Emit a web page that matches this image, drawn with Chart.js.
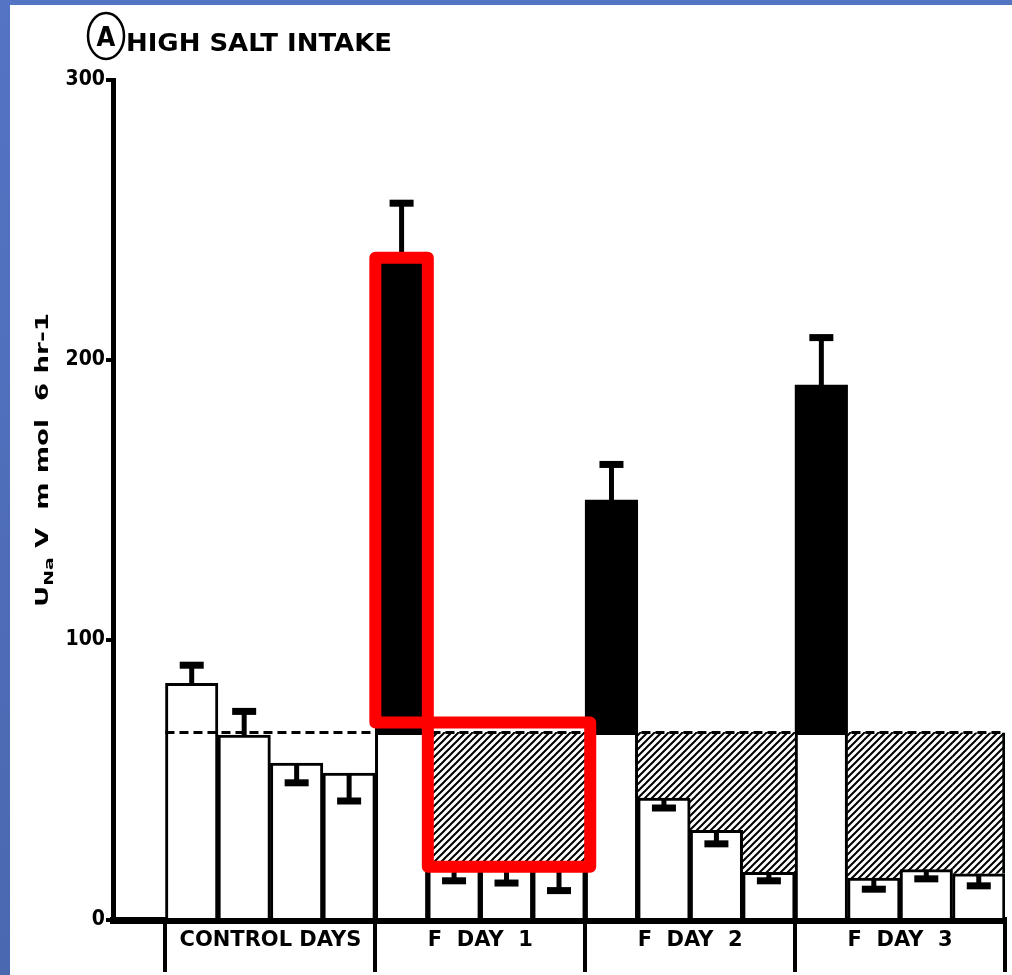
<!DOCTYPE html>
<html>
<head>
<meta charset="utf-8">
<script src="https://cdn.jsdelivr.net/npm/chart.js@4.4.1/dist/chart.umd.min.js"></script>
<style>
html, body { margin: 0; padding: 0; }
body { width: 1012px; height: 975px; position: relative; overflow: hidden;
       background: linear-gradient(180deg, #5474c4 0%, #4a68b0 100%); }
#wrap { position: absolute; left: 10px; top: 5px; width: 1002px; height: 970px; background: #fff; }
</style>
</head>
<body>
<div id="wrap"><canvas id="naChart"></canvas></div>
<script>
// one slot per bar, slot 0 is the empty space next to the y axis
var bar_labels = ['', 'C1', 'C2', 'C3', 'C4', 'F1a', 'F1b', 'F1c', 'F1d',
                  'F2a', 'F2b', 'F2c', 'F2d', 'F3a', 'F3b', 'F3c', 'F3d'];
var white_vals = [null, 84.5, 66, 56, 52.5, 67, 19.5, 19.5, 19, 67, 43.5, 32, 17, 67, 15, 18, 16.5];
var black_top = [null, null, null, null, null, 235.5, null, null, null, 150, null, null, null, 191, null, null, null];
var hatch_top = [null, null, null, null, null, null, 67, 67, 67, null, 67, 67, 67, null, 67, 67, 67];
var err_end = [null, 91, 74.5, 49, 42.5, 256, 14, 13.2, 10.5, 162.7, 40, 27.2, 14, 208, 11, 14.7, 12.2];
var ctrl_level = 67;

var group_labels = ['CONTROL DAYS', 'F  DAY  1', 'F  DAY  2', 'F  DAY  3'];
var group_mid = [3, 7, 11, 15];
var group_edges = [1, 5, 9, 13, 17];
var y_ticks = [0, 100, 200, 300];

// red highlight boxes (bar range, low value, high value)
var hl_from = [5, 6];
var hl_to = [5, 8];
var hl_low = [70.5, 19];
var hl_high = [236.5, 70.5];

var FONT = '"DejaVu Sans", sans-serif';
var FONT_C = '"DejaVu Sans Condensed", "DejaVu Sans", sans-serif';

function make_hatch() {
    var c = document.createElement('canvas');
    c.width = 7; c.height = 7;
    var g = c.getContext('2d');
    g.fillStyle = '#fff';
    g.fillRect(0, 0, 7, 7);
    g.strokeStyle = '#000';
    g.lineWidth = 2;
    g.beginPath();
    g.moveTo(-1, 8); g.lineTo(8, -1);
    g.moveTo(-2, 2); g.lineTo(2, -2);
    g.moveTo(5, 9); g.lineTo(9, 5);
    g.stroke();
    return g.createPattern(c, 'repeat');
}

var black_inc = black_top.map(function (v, i) { return v == null ? null : v - white_vals[i]; });
var hatch_inc = hatch_top.map(function (v, i) { return v == null ? null : v - white_vals[i]; });

// draw text squeezed or stretched to a given width
function fit_text(ctx, txt, x, y, w) {
    var m = ctx.measureText(txt).width;
    ctx.save();
    ctx.translate(x, y);
    ctx.scale(w / m, 1);
    ctx.fillText(txt, 0, 0);
    ctx.restore();
}

var decor = {
    id: 'decor',
    afterDatasetsDraw: function (chart) {
        var ctx = chart.ctx;
        var x = chart.scales.x, y = chart.scales.y;
        var half = (x.getPixelForValue(1) - x.getPixelForValue(0)) / 2;
        ctx.save();
        // control mean dashed line
        var yl = y.getPixelForValue(ctrl_level);
        ctx.strokeStyle = '#000';
        ctx.lineWidth = 3;
        ctx.setLineDash([9, 5]);
        ctx.beginPath();
        ctx.moveTo(x.getPixelForValue(1) - half, yl);
        ctx.lineTo(x.getPixelForValue(16) + half, yl);
        ctx.stroke();
        ctx.setLineDash([]);
        // error bars
        ctx.fillStyle = '#000';
        for (var i = 1; i < bar_labels.length; i++) {
            if (err_end[i] == null) continue;
            var top = black_top[i] != null ? black_top[i] : white_vals[i];
            var xc = x.getPixelForValue(i);
            var y0 = y.getPixelForValue(top), y1 = y.getPixelForValue(err_end[i]);
            ctx.lineWidth = 5;
            ctx.beginPath();
            ctx.moveTo(xc, y0);
            ctx.lineTo(xc, y1);
            ctx.stroke();
            ctx.fillRect(xc - 12, y1 - 3.5, 24, 7);
        }
        // red boxes
        ctx.strokeStyle = '#ff0000';
        ctx.lineWidth = 12;
        ctx.lineJoin = 'round';
        for (var k = 0; k < hl_from.length; k++) {
            var l = x.getPixelForValue(hl_from[k]) - half;
            var r = x.getPixelForValue(hl_to[k]) + half + (k == 1 ? 5 : 0);
            var t = y.getPixelForValue(hl_high[k]);
            var b = y.getPixelForValue(hl_low[k]);
            ctx.strokeRect(l, t, r - l, b - t);
        }
        ctx.restore();
    },
    afterDraw: function (chart) {
        var ctx = chart.ctx;
        ctx.save();
        ctx.fillStyle = '#000';
        ctx.strokeStyle = '#000';
        // title with circled A
        ctx.lineWidth = 2.5;
        ctx.beginPath();
        ctx.ellipse(96, 31, 18, 23, 0, 0, Math.PI * 2);
        ctx.stroke();
        ctx.font = 'bold 27px ' + FONT_C;
        ctx.textAlign = 'center';
        ctx.textBaseline = 'alphabetic';
        ctx.fillText('A', 96, 41);
        ctx.textAlign = 'left';
        ctx.font = 'bold 24px ' + FONT;
        fit_text(ctx, 'HIGH SALT INTAKE', 116, 46, 266);
        // y axis title
        ctx.translate(33, 455);
        ctx.rotate(-Math.PI / 2);
        ctx.textBaseline = 'middle';
        var f1 = 'bold 18px ' + FONT, f2 = 'bold 13px ' + FONT;
        var parts = [['U', f1, 0], ['Na', f2, 7], [' V  m mol  6 hr-1', f1, 0]];
        var tot = 0;
        parts.forEach(function (p) { ctx.font = p[1]; tot += ctx.measureText(p[0]).width; });
        ctx.scale(294 / tot, 1);
        var px = -tot / 2;
        parts.forEach(function (p) {
            ctx.font = p[1];
            ctx.fillText(p[0], px, p[2]);
            px += ctx.measureText(p[0]).width;
        });
        ctx.restore();
    }
};

var hatch = make_hatch();
var ctx = document.getElementById('naChart').getContext('2d');
window.na_chart = new Chart(ctx, {
    type: 'bar',
    data: {
        labels: bar_labels,
        datasets: [
            {
                label: 'UNaV',
                data: white_vals,
                backgroundColor: '#fff',
                borderColor: '#000',
                borderWidth: 3,
                stack: 's'
            },
            {
                label: 'excess',
                data: black_inc,
                backgroundColor: '#000',
                borderWidth: 0,
                stack: 's'
            },
            {
                label: 'deficit',
                data: hatch_inc,
                backgroundColor: hatch,
                borderColor: '#000',
                borderWidth: function (c) { return c.dataIndex === 16 ? { right: 3 } : 0; },
                stack: 's'
            }
        ]
    },
    options: {
        responsive: true,
        maintainAspectRatio: false,
        animation: false,
        barPercentage: 1,
        categoryPercentage: 1,
        layout: { padding: { top: 75, right: 7, left: 0, bottom: 0 } },
        plugins: { legend: { display: false }, tooltip: { enabled: false }, title: { display: false } },
        scales: {
            x: { type: 'category', display: false, stacked: true, offset: true },
            xg: {
                type: 'linear',
                axis: 'x',
                position: 'bottom',
                offset: false,
                min: 0,
                max: 17,
                afterBuildTicks: function (axis) {
                    var v = group_edges.concat(group_mid).sort(function (a, b) { return a - b; });
                    axis.ticks = v.map(function (t) { return { value: t }; });
                },
                afterFit: function (axis) { axis.height = 55; },
                border: { display: true, color: '#000', width: 7 },
                grid: {
                    offset: false,
                    drawOnChartArea: false,
                    drawTicks: true,
                    tickLength: 52,
                    lineWidth: 4,
                    color: function (c) {
                        return (c.tick && group_edges.indexOf(c.tick.value) >= 0) ? '#000' : 'rgba(0,0,0,0)';
                    }
                },
                ticks: {
                    autoSkip: false,
                    maxRotation: 0,
                    padding: -44,
                    color: '#000',
                    font: { family: FONT, size: 21, weight: 'bold' },
                    callback: function (v) {
                        var k = group_mid.indexOf(v);
                        return k >= 0 ? group_labels[k] : '';
                    }
                }
            },
            y: {
                stacked: true,
                min: 0,
                max: 300,
                afterBuildTicks: function (axis) {
                    axis.ticks = y_ticks.map(function (t) { return { value: t }; });
                },
                afterFit: function (axis) { axis.width = 103; },
                border: { display: true, color: '#000', width: 5 },
                grid: { drawOnChartArea: false, drawTicks: true, tickLength: 7, lineWidth: 4, color: '#000' },
                ticks: {
                    padding: 1,
                    color: '#000',
                    font: { family: FONT_C, size: 21, weight: 'bold' }
                }
            }
        }
    },
    plugins: [decor]
});
</script>
</body>
</html>
